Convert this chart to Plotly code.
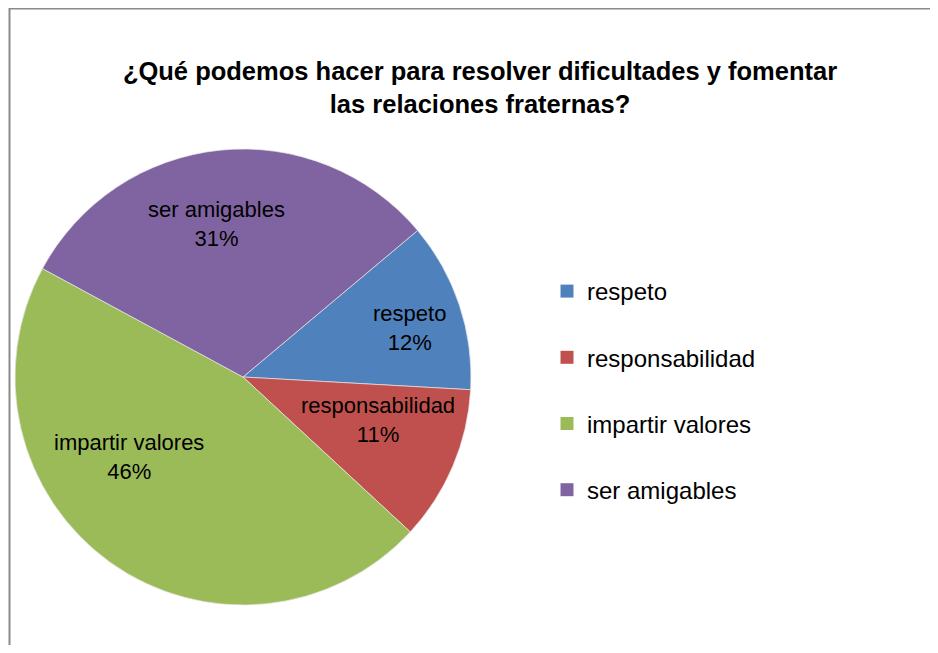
import plotly.graph_objects as go

categories = ["respeto", "responsabilidad", "impartir valores", "ser amigables"]
values = [12, 11, 46, 31]
colors = ["#4F81BD", "#C0504D", "#9BBB59", "#8064A2"]
title_text = "¿Qué podemos hacer para resolver dificultades y fomentar<br>las relaciones fraternas?"

# figure size (page body has an 8px margin, so the figure is offset by 8px)
W, H = 922, 637
FONT = "Liberation Sans, Arial, sans-serif"

# data-label placement inside the slices (figure pixels), Excel "best fit"-like
label_px = [(401, 320), (370, 412), (121, 449), (208, 216)]

fig = go.Figure()
fig.add_trace(go.Pie(
    labels=categories,
    values=values,
    sort=False,
    direction="clockwise",
    rotation=50,
    marker=dict(colors=colors, line=dict(color="#e8e8e8", width=0.7)),
    textinfo="none",
    showlegend=False,
    hoverinfo="label+percent",
    domain=dict(x=[7 / W, 463 / W], y=[1 - 597 / H, 1 - 141 / H]),
))

# legend entries (one per category)
for name, col in zip(categories, colors):
    fig.add_trace(go.Scatter(
        x=[None], y=[None], mode="markers", name=name,
        legendgroup=name,
        marker=dict(symbol="square", size=13, color=col),
    ))

total = sum(values)
annotations = []
for name, v, (px, py) in zip(categories, values, label_px):
    annotations.append(dict(
        text=f"{name}<br>{round(100 * v / total)}%",
        x=px / W, y=1 - py / H, xref="paper", yref="paper",
        xanchor="center", yanchor="middle", showarrow=False, align="center",
        font=dict(family=FONT, size=22, color="#000000"),
    ))

fig.update_layout(
    width=W, height=H,
    margin=dict(l=0, r=0, t=0, b=0),
    paper_bgcolor="white", plot_bgcolor="white",
    title=dict(text=title_text, x=472 / W, xanchor="center", y=1 - 72 / H, yanchor="middle",
               font=dict(family=FONT, size=25.5, color="#000000", weight="bold")),
    xaxis=dict(visible=False), yaxis=dict(visible=False),
    legend=dict(x=539 / W, y=1 - 261 / H, xanchor="left", yanchor="top",
                font=dict(family=FONT, size=24, color="#000000"),
                tracegroupgap=32, bgcolor="rgba(0,0,0,0)"),
    annotations=annotations,
    shapes=[dict(type="rect", xref="paper", yref="paper",
                 x0=1.5 / W, x1=1.05, y0=-0.05, y1=1 - 0.5 / H,
                 line=dict(color="#8a8a8a", width=2))],
)

fig.write_html("out.html")
